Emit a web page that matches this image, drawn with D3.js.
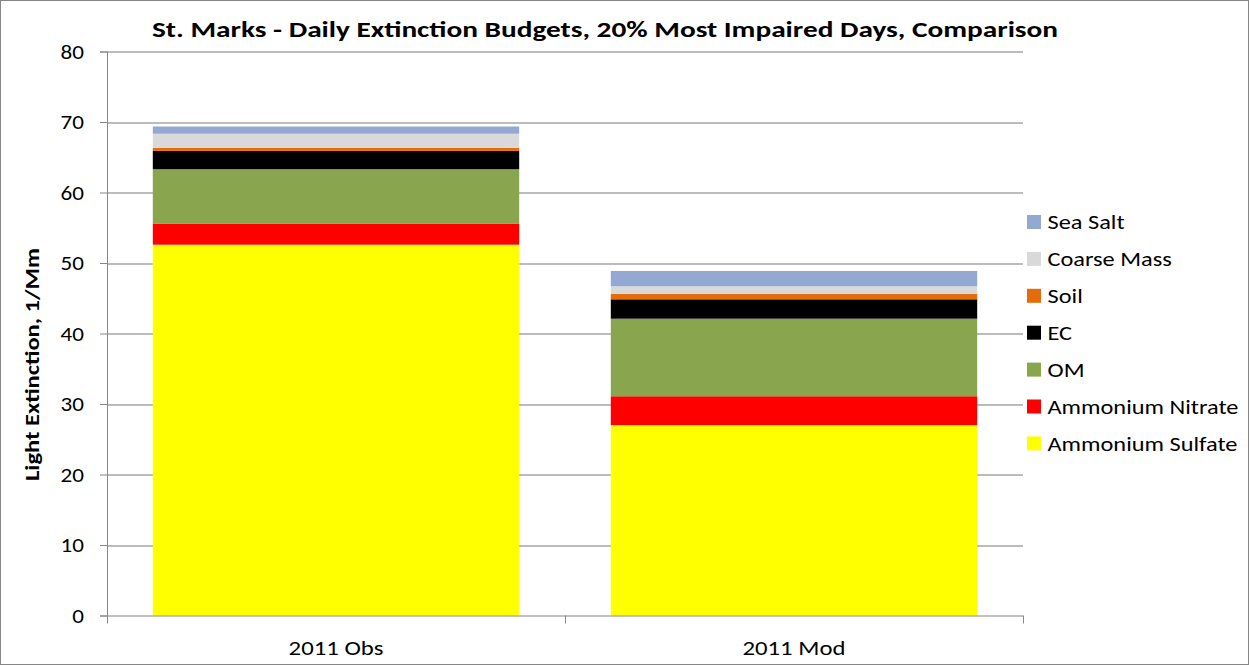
<!DOCTYPE html>
<html>
<head>
<meta charset="utf-8">
<script src="https://cdn.jsdelivr.net/npm/d3@7/dist/d3.min.js"></script>
<style>
  html, body { margin: 0; padding: 0; background: #fff; }
  svg { display: block; font-family: Carlito, Calibri, Lato, "Open Sans", sans-serif; }
</style>
</head>
<body>
<svg id="chart" width="1249" height="665"></svg>
<script>
// Extinction budget components (1/Mm), bottom to top of each stacked bar
const categories = ["2011 Obs", "2011 Mod"];
const species = ["Ammonium Sulfate", "Ammonium Nitrate", "OM", "EC", "Soil", "Coarse Mass", "Sea Salt"];
const ammoniumSulfate = [52.6, 27.0];
const ammoniumNitrate = [3.0, 4.1];
const om = [7.7, 11.0];
const ec = [2.6, 2.75];
const soil = [0.43, 0.75];
const coarseMass = [2.0, 1.1];
const seaSalt = [1.03, 2.17];
const yTicks = [0, 10, 20, 30, 40, 50, 60, 70, 80];
const colors = ["#ffff00", "#ff0000", "#89a54e", "#000000", "#e46c0a", "#d9d9d9", "#93a9d3"];

const seriesValues = [ammoniumSulfate, ammoniumNitrate, om, ec, soil, coarseMass, seaSalt];
const rows = categories.map((c, i) => {
  const r = { category: c };
  species.forEach((s, k) => { r[s] = seriesValues[k][i]; });
  return r;
});

const svg = d3.select("#chart");
const W = 1249, H = 665;
const m = { left: 107, right: 226, top: 51.5, bottom: 49.5 };
const pw = W - m.left - m.right, ph = H - m.top - m.bottom;

// widen a text selection horizontally by a common factor
function stretch(sel, factor) {
  sel.each(function () {
    const len = this.getComputedTextLength();
    d3.select(this).attr("textLength", len * factor).attr("lengthAdjust", "spacingAndGlyphs");
  });
}

// outer frame
svg.append("rect").attr("x", 0.5).attr("y", 0.5).attr("width", W - 1).attr("height", H - 1)
  .attr("fill", "#fff").attr("stroke", "#868686");

const g = svg.append("g").attr("transform", `translate(${m.left},${m.top})`);

const x = d3.scaleBand().domain(categories).range([0, pw]).paddingInner(0.2).paddingOuter(0.1);
const y = d3.scaleLinear().domain([0, 80]).range([ph, 0]);

// gridlines
g.append("g").selectAll("line").data(yTicks.filter(t => t > 0)).join("line")
  .attr("x1", 0).attr("x2", pw)
  .attr("y1", d => Math.round(y(d)) + 0.5).attr("y2", d => Math.round(y(d)) + 0.5)
  .attr("stroke", "#a6a6a6").attr("stroke-width", 1.3);

// stacked bars
const stack = d3.stack().keys(species)(rows);
g.append("g").selectAll("g").data(stack).join("g")
  .attr("fill", (d, i) => colors[i])
  .selectAll("rect").data(d => d).join("rect")
  .attr("x", d => x(d.data.category))
  .attr("width", x.bandwidth())
  .attr("y", d => y(d[1]))
  .attr("height", d => y(d[0]) - y(d[1]));

// y axis
const yAxis = g.append("g").call(d3.axisLeft(y).tickValues(yTicks).tickSize(7).tickPadding(16));
yAxis.select(".domain").attr("stroke", "#868686");
yAxis.selectAll(".tick line").attr("stroke", "#868686");
const yTickText = yAxis.selectAll("text").attr("font-size", 21).attr("fill", "#000")
  .attr("font-family", "Carlito, Calibri, Lato, sans-serif");
stretch(yTickText, 1.1);

// x axis with tick marks at category boundaries
const xAxisG = g.append("g").attr("transform", `translate(0,${ph})`);
xAxisG.append("line").attr("x1", 0).attr("x2", pw).attr("y1", 0.5).attr("y2", 0.5).attr("stroke", "#868686");
const boundaries = [0, x(categories[1]) - x.step() * x.paddingInner() / 2, pw];
xAxisG.selectAll("line.tk").data(boundaries).join("line").attr("class", "tk")
  .attr("x1", d => Math.round(d) + 0.5).attr("x2", d => Math.round(d) + 0.5)
  .attr("y1", 0).attr("y2", 8).attr("stroke", "#868686");
const xLabels = xAxisG.selectAll("text").data(categories).join("text")
  .attr("x", d => x(d) + x.bandwidth() / 2).attr("y", 39)
  .attr("text-anchor", "middle").attr("font-size", 19.5).attr("fill", "#000")
  .text(d => d);
stretch(xLabels, 1.27);

// titles
svg.append("text").attr("x", 605).attr("y", 37).attr("text-anchor", "middle")
  .attr("font-size", 22).attr("font-weight", "bold")
  .attr("textLength", 906).attr("lengthAdjust", "spacingAndGlyphs")
  .text("St. Marks - Daily Extinction Budgets, 20% Most Impaired Days, Comparison");
svg.append("text").attr("transform", `translate(39,364.5) rotate(-90)`)
  .attr("text-anchor", "middle").attr("font-size", 20).attr("font-weight", "bold")
  .attr("textLength", 233).attr("lengthAdjust", "spacingAndGlyphs")
  .text("Light Extinction, 1/Mm");

// legend (top entry is last series)
const legend = svg.append("g").attr("transform", "translate(1027,222)");
const legendItems = species.map((s, i) => ({ s, c: colors[i] })).reverse();
const li = legend.selectAll("g").data(legendItems).join("g")
  .attr("transform", (d, i) => `translate(0,${i * 36.9})`);
li.append("rect").attr("x", 0).attr("y", -7).attr("width", 14).attr("height", 14).attr("fill", d => d.c);
const legendText = li.append("text").attr("x", 20.5).attr("y", 7.3).attr("font-size", 20).text(d => d.s);
const sulfLen = legendText.filter(d => d.s === "Ammonium Sulfate").node().getComputedTextLength();
stretch(legendText, 190 / sulfLen);
</script>
</body>
</html>
